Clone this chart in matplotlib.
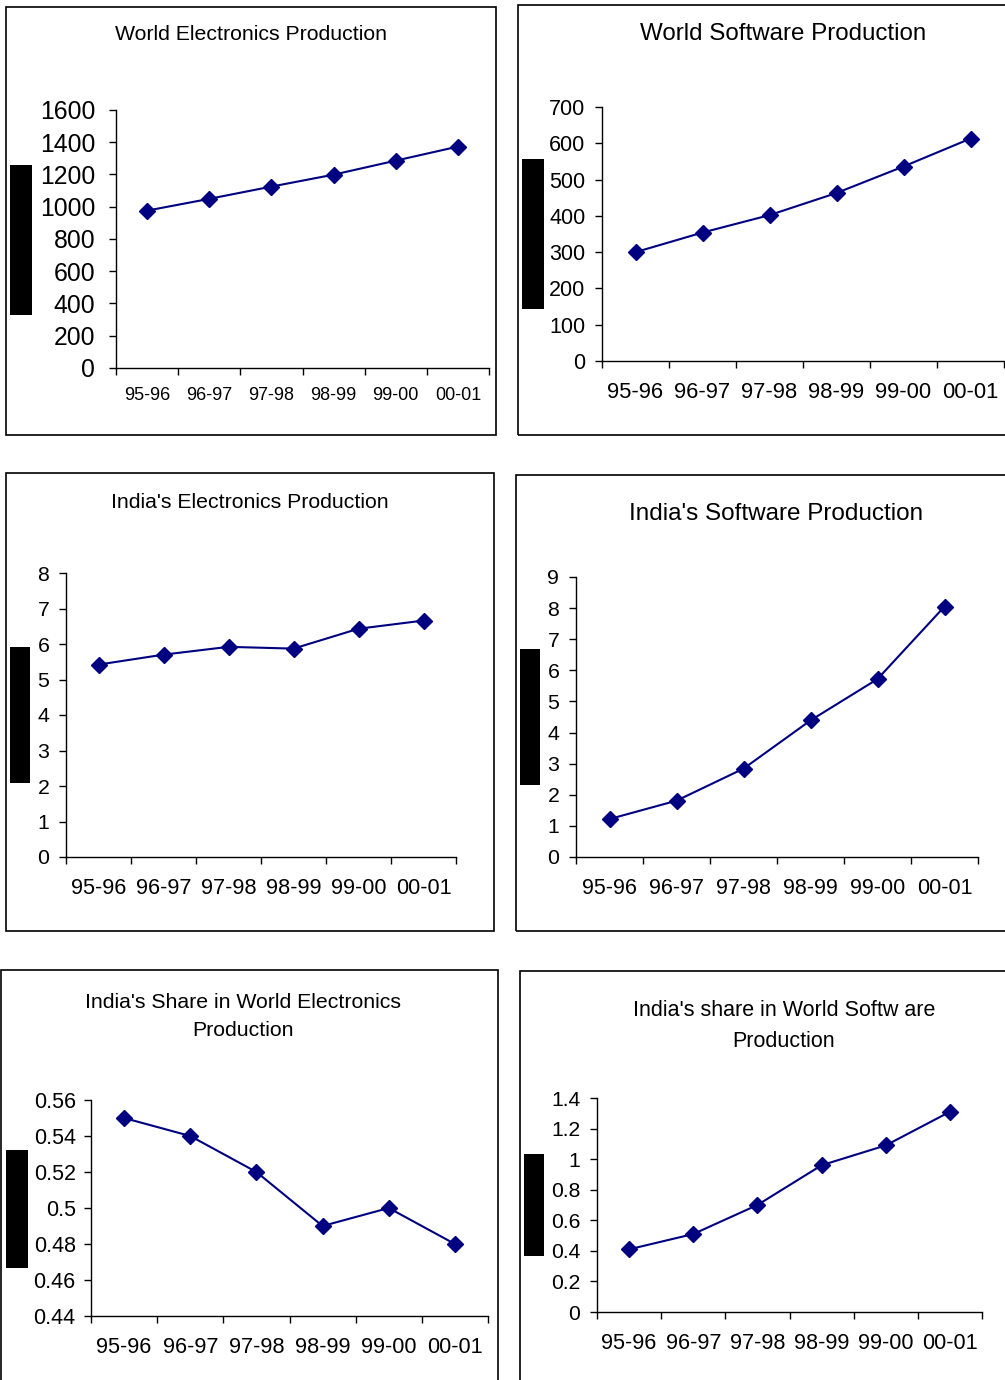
"""Six small Excel-style line panels: world and India electronics/software production."""

import matplotlib

matplotlib.use("Agg")
import numpy as np
from matplotlib import pyplot as plt
from matplotlib.patches import Rectangle

plt.rcParams["font.family"] = ["Liberation Sans", "DejaVu Sans"]

periods = ["95-96", "96-97", "97-98", "98-99", "99-00", "00-01"]

world_electronics = [976, 1049, 1125, 1199, 1286, 1373]
world_software = [300, 354, 402, 463, 536, 613]
india_electronics = [5.42, 5.70, 5.92, 5.87, 6.43, 6.66]
india_software = [1.22, 1.81, 2.84, 4.39, 5.72, 8.05]
india_share_electronics = [0.55, 0.54, 0.52, 0.49, 0.50, 0.48]
india_share_software = [0.41, 0.51, 0.70, 0.96, 1.09, 1.31]

titles = [
    "World Electronics Production",
    "World Software Production",
    "India's Electronics Production",
    "India's Software Production",
    "India's Share in World Electronics\nProduction",
    "India's share in World Softw are\nProduction",
]

y_ranges = [
    (0, 1600, 200),
    (0, 700, 100),
    (0, 8, 1),
    (0, 9, 1),
    (0.44, 0.56, 0.02),
    (0, 1.4, 0.2),
]

W, H = 1005, 1380
LINE = "#000080"

# layout in pixels: axes (l, t, r, b), frame (l, t, r, b), mask (l, t, r, b),
# title centre (x, y), font sizes (ytick, xtick, title), pads (y, x)
layout = [
    dict(ax=(116, 110, 489, 368), box=(6, 7, 496, 435), mask=(10, 165, 32, 315),
         title=(251, 34), fs=(17.8, 13, 15.3), pad=(10, 10)),
    dict(ax=(602, 107, 1004, 361), box=(518, 5, 1012, 435), mask=(522, 159, 544, 309),
         title=(783, 34), fs=(15.5, 15.8, 17.4), pad=(7, 11)),
    dict(ax=(66, 573, 456, 857), box=(6, 473, 494, 931), mask=(10, 647, 30, 783),
         title=(250, 502), fs=(15.3, 15.7, 15.3), pad=(7, 11)),
    dict(ax=(576, 577, 978, 857), box=(516, 475, 1012, 931), mask=(520, 649, 540, 785),
         title=(776, 514), fs=(15.3, 15.5, 17.5), pad=(7, 11)),
    dict(ax=(91, 1100, 488, 1316), box=(1, 970, 498, 1392), mask=(6, 1150, 28, 1268),
         title=(243, 1017), fs=(15.5, 15.7, 15.3), pad=(6, 11)),
    dict(ax=(597, 1098, 982, 1312), box=(520, 971, 1012, 1392), mask=(524, 1154, 544, 1256),
         title=(784, 1026), fs=(15.2, 15.6, 15.5), pad=(7, 11)),
]

series = [
    world_electronics,
    world_software,
    india_electronics,
    india_software,
    india_share_electronics,
    india_share_software,
]


def fig_rect(l, t, r, b):
    return [l / W, 1 - b / H, (r - l) / W, (b - t) / H]


fig = plt.figure(figsize=(W / 100, H / 100), dpi=100)

for values, title, (y0, y1, step), spec in zip(series, titles, y_ranges, layout):
    ax = fig.add_axes(fig_rect(*spec["ax"]))
    x = np.arange(len(periods)) + 0.5
    ax.plot(x, values, color=LINE, lw=1.5, marker="D", ms=8,
            markerfacecolor=LINE, markeredgecolor=LINE, clip_on=False)

    ax.set_xlim(0, len(periods))
    ax.set_ylim(y0, y1)
    yticks = np.round(np.arange(y0, y1 + step / 2, step), 4)
    ax.set_yticks(yticks, labels=[f"{v:g}" for v in yticks])
    ax.set_xticks(range(len(periods) + 1), labels=[])
    ax.set_xticks(x, labels=periods, minor=True)

    fs_y, fs_x, fs_t = spec["fs"]
    pad_y, pad_x = spec["pad"]
    ax.tick_params(axis="y", direction="out", length=5, width=1, labelsize=fs_y, pad=pad_y)
    ax.tick_params(axis="x", which="major", direction="out", length=5, width=1)
    ax.tick_params(axis="x", which="minor", length=0, labelsize=fs_x, pad=pad_x + 4)
    for side in ("top", "right"):
        ax.spines[side].set_visible(False)
    for side in ("left", "bottom"):
        ax.spines[side].set_linewidth(1)
    ax.patch.set_alpha(0)

    bl, bt, br, bb = spec["box"]
    fig.patches.append(Rectangle((bl / W, 1 - bb / H), (br - bl) / W, (bb - bt) / H,
                                 transform=fig.transFigure, fill=False, ec="black", lw=1.2))
    ml, mt, mr, mb = spec["mask"]
    fig.patches.append(Rectangle((ml / W, 1 - mb / H), (mr - ml) / W, (mb - mt) / H,
                                 transform=fig.transFigure, fc="black", ec="none"))

    tx, ty = spec["title"]
    fig.text(tx / W, 1 - ty / H, title, ha="center", va="center",
             fontsize=fs_t, linespacing=1.6)

fig.savefig("out.png", dpi=100)
